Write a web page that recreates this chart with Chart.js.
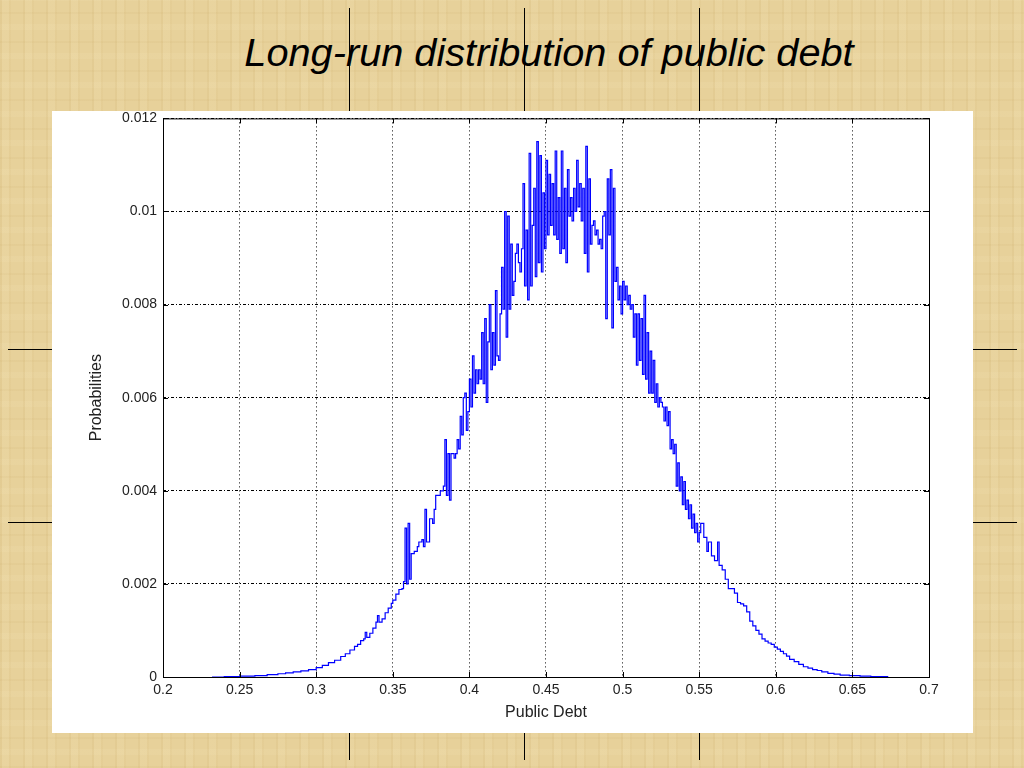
<!DOCTYPE html>
<html>
<head>
<meta charset="utf-8">
<script src="https://cdn.jsdelivr.net/npm/chart.js@4.4.1/dist/chart.umd.min.js"></script>
<style>
  html, body { margin: 0; padding: 0; }
  body {
    width: 1024px; height: 768px; position: relative; overflow: hidden;
    background-color: rgb(231, 209, 154);
    background-image:
      repeating-linear-gradient(90deg, rgba(190,155,85,0.10) 0px, rgba(190,155,85,0.10) 2px, rgba(255,245,210,0.08) 2px, rgba(255,245,210,0.08) 9px, rgba(200,165,95,0.08) 9px, rgba(200,165,95,0.08) 11px, transparent 11px, transparent 23px),
      repeating-linear-gradient(0deg, rgba(190,155,85,0.08) 0px, rgba(190,155,85,0.08) 2px, transparent 2px, transparent 13px, rgba(255,245,210,0.08) 13px, rgba(255,245,210,0.08) 19px, transparent 19px, transparent 29px);
    font-family: "Liberation Sans", Arial, sans-serif;
  }
  h1 {
    position: absolute; left: 0; top: 30px; width: 1098px; margin: 0;
    text-align: center; font-size: 38px; font-weight: normal; font-style: italic;
    color: #000; line-height: 46px; transform: scaleX(1.045); transform-origin: 549px 0;
  }
  .vl { position: absolute; width: 1px; background: #000; }
  .hl { position: absolute; height: 1px; background: #000; }
  #panel {
    position: absolute; left: 52px; top: 111px; width: 921px; height: 622px; background: #fff;
  }
  #myChart { position: absolute; left: 0; top: -7px; }
</style>
</head>
<body>
<div class="vl" style="left:349px;top:8px;height:103px"></div>
<div class="vl" style="left:524px;top:8px;height:103px"></div>
<div class="vl" style="left:699px;top:8px;height:103px"></div>
<div class="vl" style="left:349px;top:733px;height:27px"></div>
<div class="vl" style="left:524px;top:733px;height:27px"></div>
<div class="vl" style="left:699px;top:733px;height:27px"></div>
<div class="hl" style="left:8px;top:349px;width:44px"></div>
<div class="hl" style="left:8px;top:522px;width:44px"></div>
<div class="hl" style="left:973px;top:349px;width:44px"></div>
<div class="hl" style="left:973px;top:522px;width:44px"></div>
<h1>Long-run distribution of public debt</h1>
<div id="panel"><canvas id="myChart" width="921" height="629"></canvas></div>
<script>
// public debt level (x) and probability (y)
const debtValues = [
  0.232, 0.240, 0.250, 0.260, 0.268, 0.275, 0.280, 0.285, 0.290, 0.295,
  0.300, 0.304, 0.308, 0.312, 0.316, 0.319, 0.322, 0.325, 0.327, 0.329,
  0.331, 0.332, 0.333, 0.335, 0.337, 0.339, 0.340, 0.341, 0.343, 0.345,
  0.347, 0.349, 0.350, 0.352, 0.354, 0.356, 0.357, 0.358, 0.359, 0.360,
  0.361, 0.362, 0.364, 0.366, 0.367, 0.369, 0.370, 0.371, 0.372, 0.374,
  0.376, 0.377, 0.378, 0.380, 0.381, 0.383, 0.384, 0.385, 0.386, 0.387,
  0.388, 0.390, 0.391, 0.392, 0.393, 0.394, 0.395, 0.396, 0.397, 0.398,
  0.399, 0.400, 0.401, 0.402, 0.403, 0.404, 0.405, 0.406, 0.407, 0.408,
  0.409, 0.410, 0.411, 0.412, 0.413, 0.414, 0.415, 0.416, 0.417, 0.418,
  0.419, 0.420, 0.421, 0.422, 0.423, 0.424, 0.425, 0.426, 0.427, 0.428,
  0.429, 0.430, 0.431, 0.432, 0.433, 0.434, 0.435, 0.436, 0.437, 0.438,
  0.439, 0.440, 0.441, 0.442, 0.443, 0.444, 0.445, 0.446, 0.447, 0.448,
  0.449, 0.450, 0.451, 0.452, 0.453, 0.454, 0.455, 0.456, 0.457, 0.458,
  0.459, 0.460, 0.461, 0.462, 0.463, 0.464, 0.465, 0.466, 0.467, 0.468,
  0.469, 0.470, 0.471, 0.472, 0.473, 0.474, 0.475, 0.476, 0.477, 0.478,
  0.479, 0.480, 0.481, 0.482, 0.483, 0.484, 0.485, 0.486, 0.487, 0.488,
  0.489, 0.490, 0.491, 0.492, 0.493, 0.494, 0.495, 0.496, 0.497, 0.498,
  0.499, 0.500, 0.501, 0.502, 0.503, 0.504, 0.505, 0.506, 0.507, 0.508,
  0.509, 0.510, 0.511, 0.512, 0.513, 0.514, 0.515, 0.516, 0.517, 0.518,
  0.519, 0.520, 0.521, 0.522, 0.523, 0.524, 0.525, 0.526, 0.527, 0.528,
  0.529, 0.530, 0.531, 0.532, 0.533, 0.534, 0.535, 0.536, 0.537, 0.538,
  0.539, 0.540, 0.541, 0.542, 0.543, 0.544, 0.545, 0.546, 0.547, 0.548,
  0.549, 0.550, 0.551, 0.553, 0.555, 0.556, 0.558, 0.560, 0.562, 0.563,
  0.565, 0.567, 0.569, 0.571, 0.573, 0.575, 0.577, 0.579, 0.581, 0.583,
  0.585, 0.587, 0.589, 0.591, 0.593, 0.595, 0.597, 0.599, 0.601, 0.603,
  0.605, 0.607, 0.609, 0.612, 0.615, 0.618, 0.621, 0.624, 0.627, 0.630,
  0.634, 0.638, 0.642, 0.648, 0.655, 0.662, 0.673
];
const probValues = [
  0, 0.00001, 0.00002, 0.00003, 0.00005, 0.00007, 0.00009, 0.00011, 0.00013, 0.00016,
  0.0002, 0.00025, 0.00031, 0.00036, 0.00044, 0.0005, 0.00058, 0.00066, 0.0007, 0.00078,
  0.00082, 0.00096, 0.00085, 0.00094, 0.00105, 0.00118, 0.00132, 0.00118, 0.00125, 0.00138,
  0.00148, 0.00158, 0.00165, 0.00178, 0.00188, 0.0019, 0.00205, 0.0032, 0.002, 0.0033,
  0.0021, 0.00265, 0.0027, 0.0028, 0.0029, 0.00295, 0.0028, 0.0036, 0.0029, 0.0034,
  0.0033, 0.0036, 0.0039, 0.0039, 0.004, 0.0041, 0.0051, 0.0039, 0.0048, 0.0038,
  0.0048, 0.0047, 0.0048, 0.0051, 0.0049, 0.0056, 0.0052, 0.006, 0.0061, 0.0053,
  0.0057, 0.0064, 0.0058, 0.0069, 0.0061, 0.0066, 0.0063, 0.0066, 0.0064, 0.0074,
  0.0063, 0.0077, 0.0059, 0.0072, 0.008, 0.0066, 0.0074, 0.0067, 0.0083, 0.0069,
  0.0068, 0.0078, 0.0088, 0.0079, 0.01, 0.0073, 0.0099, 0.0079, 0.0093, 0.0082,
  0.0085, 0.0091, 0.0093, 0.0089, 0.0087, 0.0092, 0.0106, 0.0084, 0.0096, 0.0081,
  0.01125, 0.0084, 0.0097, 0.0105, 0.0086, 0.0115, 0.0089, 0.0112, 0.0087, 0.0104,
  0.0092, 0.0111, 0.0095, 0.0108, 0.0097, 0.0106, 0.0095, 0.0113, 0.0094, 0.0103,
  0.0091, 0.0113, 0.0092, 0.0105, 0.0089, 0.0109, 0.0099, 0.0103, 0.0098, 0.0105,
  0.01, 0.0111, 0.0101, 0.0106, 0.0098, 0.0105, 0.0091, 0.0114, 0.0087, 0.0107,
  0.0093, 0.0097, 0.0098, 0.0095, 0.0096, 0.0093, 0.0094, 0.0092, 0.0099, 0.01,
  0.0077, 0.0107, 0.0095, 0.0109, 0.0075, 0.0105, 0.0085, 0.0088, 0.0081, 0.0084,
  0.0078, 0.0085, 0.0081, 0.0084, 0.008, 0.0082, 0.0079, 0.008, 0.0073, 0.0078,
  0.0067, 0.0078, 0.0068, 0.0077, 0.0065, 0.0082, 0.0064, 0.0074, 0.0061, 0.007,
  0.0061, 0.0068, 0.0059, 0.0063, 0.0058, 0.006, 0.0059, 0.0058, 0.0055, 0.0058,
  0.0054, 0.0057, 0.0049, 0.0051, 0.0048, 0.005, 0.0041, 0.0046, 0.004, 0.0043,
  0.0037, 0.0042, 0.0036, 0.0038, 0.0034, 0.0037, 0.0032, 0.0035, 0.0031, 0.0033,
  0.0029, 0.0031, 0.0033, 0.003, 0.0027, 0.0029, 0.0026, 0.0025, 0.0029, 0.0024,
  0.0023, 0.0021, 0.0019, 0.0019, 0.0018, 0.0016, 0.00157, 0.00153, 0.0014, 0.0012,
  0.0011, 0.001, 0.00092, 0.00082, 0.00077, 0.00073, 0.0007, 0.00064, 0.0006, 0.00055,
  0.0005, 0.00045, 0.00038, 0.00033, 0.00027, 0.00022, 0.00019, 0.00016, 0.00014, 0.00011,
  0.00008, 0.00006, 0.00004, 0.00003, 0.00002, 0.00001, 0
];

const points = debtValues.map((d, i) => ({ x: d, y: probValues[i] }));

// solid frame round the plot plus matlab style inward ticks
const frameBox = {
  id: 'frameBox',
  afterDraw(chart) {
    const { ctx, chartArea: a, scales } = chart;
    ctx.save();
    ctx.strokeStyle = '#000';
    ctx.lineWidth = 1;
    ctx.strokeRect(a.left + 0.5, a.top + 0.5, a.right - a.left, a.bottom - a.top);
    ctx.beginPath();
    for (let t of scales.x.ticks) {
      let px = Math.round(scales.x.getPixelForValue(t.value)) + 0.5;
      ctx.moveTo(px, a.bottom); ctx.lineTo(px, a.bottom - 5);
      ctx.moveTo(px, a.top); ctx.lineTo(px, a.top + 5);
    }
    for (let t of scales.y.ticks) {
      let py = Math.round(scales.y.getPixelForValue(t.value)) + 0.5;
      ctx.moveTo(a.left, py); ctx.lineTo(a.left + 5, py);
      ctx.moveTo(a.right, py); ctx.lineTo(a.right - 5, py);
    }
    ctx.stroke();
    ctx.restore();
  }
};

const tickFont = { family: '"Liberation Sans", Arial, sans-serif', size: 14 };
const titleFont = { family: '"Liberation Sans", Arial, sans-serif', size: 16 };

new Chart(document.getElementById('myChart'), {
  type: 'line',
  data: {
    datasets: [{
      data: points,
      borderColor: '#0000ff',
      borderWidth: 1.2,
      pointRadius: 0,
      stepped: true,
      fill: false
    }]
  },
  options: {
    responsive: false,
    animation: false,
    layout: { padding: { left: 0, top: 0, right: 44, bottom: 0 } },
    plugins: { legend: { display: false }, tooltip: { enabled: false } },
    scales: {
      x: {
        type: 'linear',
        min: 0.2,
        max: 0.7,
        afterFit(scale) { scale.height = 56; },
        ticks: {
          stepSize: 0.05,
          padding: 5,
          color: '#222',
          font: tickFont,
          maxRotation: 0,
          callback: v => String(+v.toFixed(3))
        },
        grid: { color: '#000', lineWidth: 1, drawTicks: false },
        border: { display: false, dash: [1, 3] },
        title: { display: true, text: 'Public Debt', color: '#222', font: titleFont, padding: { top: 0, bottom: 11 } }
      },
      y: {
        min: 0,
        max: 0.012,
        afterFit(scale) { scale.width = 111; },
        ticks: {
          stepSize: 0.002,
          padding: 6,
          color: '#222',
          font: tickFont,
          callback: v => String(+v.toFixed(4))
        },
        grid: { color: '#000', lineWidth: 1, drawTicks: false },
        border: { display: false, dash: [3, 2, 1, 2] },
        title: { display: true, text: 'Probabilities', color: '#222', font: titleFont, padding: { top: 35, bottom: 0 } }
      }
    }
  },
  plugins: [frameBox]
});
</script>
</body>
</html>
